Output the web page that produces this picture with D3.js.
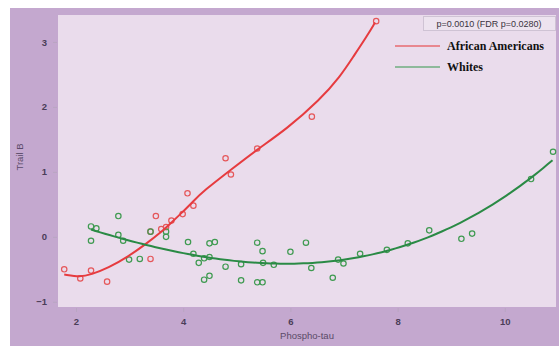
<!DOCTYPE html>
<html>
<head>
<meta http-equiv="Content-Type" content="text/html;charset=utf-8">
<script type="text/javascript" src="https://d3js.org/d3.v7.min.js"></script>
<style>
  body { margin: 0; background: #fff; }
</style>
</head>
<body>
<div id="chart"></div>
<script type="text/javascript">

// observed points, African Americans
var aaX = [1.78, 2.08, 2.28, 2.58, 3.39, 3.49, 3.39, 3.59, 3.68, 3.78, 3.99, 4.08, 4.19, 4.79, 4.89, 5.38, 6.40, 7.60];
var aaY = [-0.50, -0.64, -0.52, -0.69, -0.34, 0.32, 0.08, 0.12, 0.15, 0.25, 0.35, 0.67, 0.48, 1.21, 0.96, 1.36, 1.85, 3.32];

// observed points, Whites
var whX = [2.28, 2.38, 2.28, 2.79, 2.79, 2.88, 2.99, 3.19, 3.39, 3.68, 3.68, 4.09, 4.19, 4.29, 4.39, 4.49,
           4.49, 4.59, 4.39, 4.49, 4.79, 5.08, 5.08, 5.38, 5.48, 5.49, 5.38, 5.48, 5.69, 6.00, 6.29, 6.39,
           6.79, 6.89, 6.99, 7.30, 7.80, 8.19, 8.59, 9.19, 9.39, 10.49, 10.90];
var whY = [0.16, 0.13, -0.06, 0.32, 0.03, -0.06, -0.35, -0.34, 0.08, 0.08, 0.00, -0.08, -0.26, -0.40, -0.33, -0.31,
           -0.10, -0.08, -0.66, -0.60, -0.46, -0.42, -0.67, -0.09, -0.22, -0.40, -0.70, -0.70, -0.43, -0.23, -0.09, -0.48,
           -0.63, -0.35, -0.41, -0.26, -0.20, -0.10, 0.10, -0.03, 0.05, 0.89, 1.31];

// fitted curves
var aaFitX = [1.78, 2.08, 2.28, 2.60, 2.98, 3.29, 3.60, 3.78, 4.00, 4.19, 4.37, 4.90, 5.37, 5.93, 6.55, 6.93, 7.17, 7.42, 7.58];
var aaFitY = [-0.58, -0.62, -0.58, -0.48, -0.30, -0.12, 0.08, 0.22, 0.39, 0.55, 0.70, 1.04, 1.34, 1.66, 2.11, 2.47, 2.77, 3.08, 3.30];
var whFitX = [2.28, 3.00, 3.75, 4.03, 4.50, 5.08, 5.62, 6.18, 6.89, 7.45, 8.08, 8.76, 9.35, 9.97, 10.49, 10.89];
var whFitY = [0.10, -0.05, -0.20, -0.24, -0.33, -0.38, -0.42, -0.42, -0.35, -0.29, -0.15, 0.03, 0.31, 0.65, 0.89, 1.17];

var xTicks = [2, 4, 6, 8, 10];
var yTicks = [-1, 0, 1, 2, 3];
var seriesNames = ["African Americans", "Whites"];
var pText = "p=0.0010 (FDR p=0.0280)";

var width = 559, height = 346;
var panel = {left: 58, right: 556, top: 15, bottom: 307};

// least squares polynomial through the curve readings, to smooth them
function polyfit(xs, ys, deg) {
  var n = deg + 1, A = [], i, j, k;
  for (i = 0; i < n; i++) {
    A[i] = [];
    for (j = 0; j <= n; j++) A[i][j] = 0;
  }
  xs.forEach(function (xv, p) {
    for (i = 0; i < n; i++) {
      for (j = 0; j < n; j++) A[i][j] += Math.pow(xv, i + j);
      A[i][n] += ys[p] * Math.pow(xv, i);
    }
  });
  for (i = 0; i < n; i++) {
    var piv = i;
    for (k = i + 1; k < n; k++) if (Math.abs(A[k][i]) > Math.abs(A[piv][i])) piv = k;
    var t = A[i]; A[i] = A[piv]; A[piv] = t;
    for (k = i + 1; k < n; k++) {
      var f = A[k][i] / A[i][i];
      for (j = i; j <= n; j++) A[k][j] -= f * A[i][j];
    }
  }
  var c = [];
  for (i = n - 1; i >= 0; i--) {
    var s = A[i][n];
    for (j = i + 1; j < n; j++) s -= A[i][j] * c[j];
    c[i] = s / A[i][i];
  }
  return function (xv) {
    var r = 0;
    for (var q = 0; q < n; q++) r += c[q] * Math.pow(xv, q);
    return r;
  };
}

var svg = d3.select("#chart").append("svg")
    .attr("width", width)
    .attr("height", height)
    .style("display", "block");

// outer frame
svg.append("rect")
    .attr("x", 10).attr("y", 8)
    .attr("width", width - 10).attr("height", height - 8)
    .attr("fill", "#c4a8cf");

svg.append("rect")
    .attr("x", panel.left).attr("y", panel.top)
    .attr("width", panel.right - panel.left).attr("height", panel.bottom - panel.top)
    .attr("fill", "#eadcec");

var x = d3.scaleLinear().domain([1.664, 10.955]).range([panel.left, panel.right]);
var y = d3.scaleLinear().domain([-1.08, 3.415]).range([panel.bottom, panel.top]);

var xAxis = svg.append("g")
    .attr("transform", "translate(0," + (panel.bottom + 1) + ")")
    .call(d3.axisBottom(x).tickValues(xTicks).tickSize(4).tickPadding(6).tickFormat(d3.format("d")));
var yAxis = svg.append("g")
    .attr("transform", "translate(" + (panel.left - 1) + ",0)")
    .call(d3.axisLeft(y).tickValues(yTicks).tickSize(4).tickPadding(6).tickFormat(d3.format("d")));

[xAxis, yAxis].forEach(function (g) {
  g.select(".domain").remove();
  g.selectAll(".tick line").attr("stroke", "#b9a6c2");
  g.selectAll(".tick text")
    .attr("fill", "#4b3d58")
    .style("font-family", "Arial, 'Liberation Sans', sans-serif")
    .style("font-size", "9.5px")
    .style("font-weight", "bold");
});

svg.append("text")
    .attr("x", (panel.left + panel.right) / 2)
    .attr("y", 339)
    .attr("text-anchor", "middle")
    .attr("fill", "#5a4a68")
    .style("font-family", "Arial, 'Liberation Sans', sans-serif")
    .style("font-size", "9.5px")
    .text("Phospho-tau");

svg.append("text")
    .attr("transform", "translate(23,157) rotate(-90)")
    .attr("text-anchor", "middle")
    .attr("fill", "#5a4a68")
    .style("font-family", "Arial, 'Liberation Sans', sans-serif")
    .style("font-size", "9.5px")
    .text("Trail B");

var line = d3.line()
    .x(function (d) { return x(d[0]); })
    .y(function (d) { return y(d[1]); });

var series = [
  {px: aaX, py: aaY, fx: aaFitX, fy: aaFitY, line: "#e63b3f", pt: "#e5575a", smooth: "basis"},
  {px: whX, py: whY, fx: whFitX, fy: whFitY, line: "#2a8a45", pt: "#3e9a50", smooth: "poly"}
];

series.forEach(function (s) {
  svg.append("g")
    .selectAll("circle")
    .data(d3.zip(s.px, s.py))
    .enter().append("circle")
    .attr("cx", function (d) { return x(d[0]); })
    .attr("cy", function (d) { return y(d[1]); })
    .attr("r", 2.7)
    .attr("fill", "none")
    .attr("stroke", s.pt)
    .attr("stroke-width", 1.2);
});

series.forEach(function (s) {
  var pts, path;
  if (s.smooth === "poly") {
    var f = polyfit(s.fx, s.fy, 3);
    var lo = d3.min(s.fx), hi = d3.max(s.fx);
    pts = d3.range(0, 101).map(function (k) {
      var xv = lo + (hi - lo) * k / 100;
      return [xv, f(xv)];
    });
    path = line.curve(d3.curveLinear)(pts);
  } else {
    pts = d3.zip(s.fx, s.fy);
    path = line.curve(d3.curveBasis)(pts);
  }
  svg.append("path")
    .attr("d", path)
    .attr("fill", "none")
    .attr("stroke", s.line)
    .attr("stroke-width", 2);
});

// legend
svg.append("rect")
    .attr("x", 423.5).attr("y", 16.5)
    .attr("width", 132).attr("height", 14)
    .attr("fill", "#ede3ef")
    .attr("stroke", "#cfc3d4");
svg.append("text")
    .attr("x", 489).attr("y", 27)
    .attr("text-anchor", "middle")
    .attr("fill", "#3a3340")
    .style("font-family", "Arial, 'Liberation Sans', sans-serif")
    .style("font-size", "9px")
    .text(pText);

var legendColors = ["#e76b70", "#6fae80"];
seriesNames.forEach(function (name, i) {
  var ly = 46 + i * 21;
  svg.append("line")
    .attr("x1", 395).attr("x2", 440)
    .attr("y1", ly).attr("y2", ly)
    .attr("stroke", legendColors[i])
    .attr("stroke-width", 1.5);
  svg.append("text")
    .attr("x", 447).attr("y", ly + 4)
    .attr("fill", "#111")
    .style("font-family", "'Liberation Serif', 'Times New Roman', serif")
    .style("font-size", "12px")
    .style("font-weight", "bold")
    .text(name);
});

</script>
</body>
</html>
